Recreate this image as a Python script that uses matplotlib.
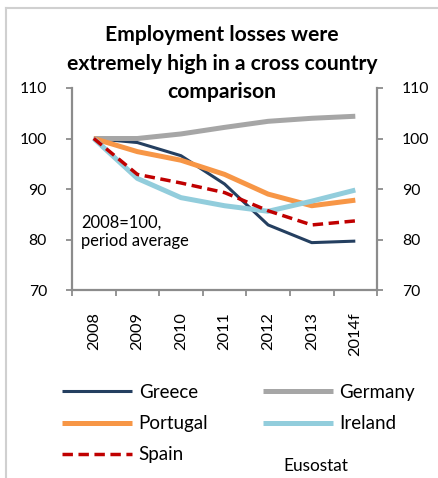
import matplotlib
matplotlib.use("Agg")
import matplotlib.pyplot as plt
from matplotlib.lines import Line2D

plt.rcParams['font.family'] = ['Lato', 'DejaVu Sans']

# Employment index, 2008=100, period average
years = ["2008", "2009", "2010", "2011", "2012", "2013", "2014f"]
greece = [100, 99.2, 96.6, 91.0, 82.9, 79.4, 79.7]
germany = [100, 100.0, 100.9, 102.2, 103.4, 104.0, 104.4]
portugal = [100, 97.4, 95.7, 92.9, 89.0, 86.7, 87.8]
ireland = [100, 92.1, 88.3, 86.7, 85.6, 87.6, 89.8]
spain = [100, 92.9, 91.2, 89.3, 85.7, 82.9, 83.7]
yticks = [70, 80, 90, 100, 110]

spine_col = "#8c8c8c"

fig = plt.figure(figsize=(4.39, 4.78), dpi=100)
ax = fig.add_axes([0.164, 0.393, 0.695, 0.423])

x = range(len(years))
l_gr, = ax.plot(x, greece, color="#243f60", lw=2.2, label="Greece", solid_capstyle="butt")
l_de, = ax.plot(x, germany, color="#a6a6a6", lw=3.6, label="Germany", solid_capstyle="butt")
l_pt, = ax.plot(x, portugal, color="#f79646", lw=3.6, label="Portugal", solid_capstyle="butt")
l_ie, = ax.plot(x, ireland, color="#92cddc", lw=3.6, label="Ireland", solid_capstyle="butt")
l_es, = ax.plot(x, spain, color="#c00000", lw=2.5, ls=(0, (3, 1.6)), label="Spain")

ax.set_xlim(-0.5, len(years) - 0.5)
ax.set_ylim(70, 110)
ax.set_yticks(yticks)
ax.set_xticks([i - 0.5 for i in range(len(years) + 1)], minor=False)
ax.set_xticklabels([])
ax.set_xticks(list(x), minor=True)
ax.set_xticklabels(years, minor=True, rotation=90, fontsize=11.8)
ax.tick_params(axis="x", which="minor", length=0, pad=16)
ax.tick_params(axis="x", which="major", length=4, width=1.3, color=spine_col, direction="out")
ax.tick_params(axis="y", length=4, width=1.3, color=spine_col, direction="out",
               labelsize=11.3, pad=14, left=True, right=True, labelleft=True, labelright=True)

for side in ["left", "right", "bottom"]:
    ax.spines[side].set_color(spine_col)
    ax.spines[side].set_linewidth(1.6)
ax.spines["top"].set_visible(False)

ax.text(0.03, 0.375, "2008=100,\nperiod average", transform=ax.transAxes,
        fontsize=11.9, va="top", ha="left", linespacing=1.2)

fig.text(0.506, 0.948, "Employment losses were\nextremely high in a cross country\ncomparison",
         ha="center", va="top", fontsize=15.2, fontweight="bold", linespacing=1.55)

# legend filled row by row: Greece/Germany, Portugal/Ireland, Spain
handles = [l_gr, l_pt, l_es, l_de, l_ie]
fig.legend(handles, [h.get_label() for h in handles], ncol=2, frameon=False,
           loc="upper left", bbox_to_anchor=(0.1025, 0.232), fontsize=13.5,
           handlelength=3.73, handletextpad=0.37, columnspacing=2.9, labelspacing=0.76)

fig.text(0.645, 0.025, "Eusostat", fontsize=12.4, ha="left", va="center")

# frame edges of the chart box
fig.add_artist(Line2D([0.013, 1.0], [0.983, 0.983], color="#d0d0d0", lw=1.5))
fig.add_artist(Line2D([0.013, 0.013], [0.0, 0.983], color="#d0d0d0", lw=1.5))

fig.savefig("out.png", dpi=100)
